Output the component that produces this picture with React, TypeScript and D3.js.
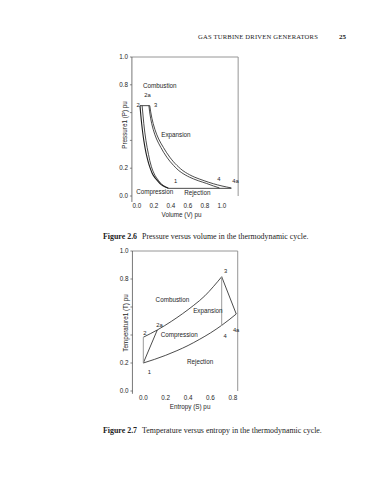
import * as d3 from 'd3'

// ---- Figure 2.6: pressure vs volume ----
const pvCompressionIdeal: [number, number][] = [
  [0.37, 0.055], [0.3, 0.075], [0.24, 0.11], [0.19, 0.15], [0.15, 0.21],
  [0.11, 0.3], [0.08, 0.4], [0.055, 0.52], [0.035, 0.65],
]
const pvCompressionActual: [number, number][] = [
  [0.37, 0.055], [0.31, 0.075], [0.255, 0.11], [0.21, 0.15], [0.17, 0.21],
  [0.135, 0.3], [0.105, 0.4], [0.08, 0.52], [0.06, 0.65],
]
const pvExpansionIdeal: [number, number][] = [
  [0.14, 0.65], [0.16, 0.56], [0.19, 0.48], [0.23, 0.41], [0.28, 0.35],
  [0.35, 0.28], [0.43, 0.22], [0.52, 0.17], [0.62, 0.135], [0.72, 0.11],
  [0.82, 0.09], [0.9, 0.072], [0.97, 0.058],
]
const pvExpansionActual: [number, number][] = [
  [0.15, 0.65], [0.175, 0.56], [0.21, 0.48], [0.255, 0.41], [0.31, 0.35],
  [0.385, 0.28], [0.47, 0.22], [0.57, 0.17], [0.68, 0.135], [0.79, 0.11],
  [0.9, 0.088], [1.0, 0.072], [1.11, 0.058],
]
const pvCombustion: [number, number][] = [[0.035, 0.65], [0.15, 0.65]]
const pvRejection: [number, number][] = [[0.37, 0.055], [1.11, 0.055]]
const pvXTicks = [0, 0.2, 0.4, 0.6, 0.8, 1.0]
const pvYTicks = [0, 0.2, 0.4, 0.6, 0.8, 1.0]
const pvLabels: [string, number, number][] = [
  ['Combustion', 0.07, 0.78], ['2a', 0.085, 0.71], ['2', -0.005, 0.64], ['3', 0.2, 0.64],
  ['Expansion', 0.285, 0.425], ['1', 0.435, 0.09], ['4', 0.945, 0.11], ['4a', 1.12, 0.09],
  ['Compression', -0.01, 0.013], ['Rejection', 0.555, 0.008],
]

// ---- Figure 2.7: temperature vs entropy ----
const tsCombustion: [number, number][] = [
  [0, 0.384], [0.125, 0.436], [0.25, 0.497], [0.35, 0.552], [0.45, 0.612],
  [0.55, 0.68], [0.625, 0.745], [0.7, 0.816],
]
const tsRejection: [number, number][] = [
  [0, 0.2], [0.1, 0.226], [0.2, 0.255], [0.3, 0.288], [0.4, 0.325],
  [0.5, 0.368], [0.6, 0.415], [0.7, 0.469], [0.83, 0.55],
]
const tsCompressionActual: [number, number][] = [[0, 0.2], [0.125, 0.436]]
const tsExpansionActual: [number, number][] = [[0.7, 0.816], [0.83, 0.55]]
const tsCompressionIdeal: [number, number][] = [[0, 0.2], [0, 0.384]]
const tsExpansionIdeal: [number, number][] = [[0.7, 0.816], [0.7, 0.464]]
const tsXTicks = [0, 0.2, 0.4, 0.6, 0.8]
const tsYTicks = [0, 0.2, 0.4, 0.6, 0.8, 1.0]
const tsLabels: [string, number, number][] = [
  ['3', 0.72, 0.84], ['Combustion', 0.11, 0.635], ['Expansion', 0.445, 0.56],
  ['2a', 0.115, 0.46], ['2', 0.0, 0.4], ['Compression', 0.155, 0.385],
  ['4a', 0.8, 0.42], ['4', 0.715, 0.38], ['Rejection', 0.39, 0.195], ['1', 0.04, 0.125],
]

const sans = 'Liberation Sans, Arial, sans-serif'
const serif = 'Liberation Serif, Times New Roman, serif'
const ink = '#1e1e1e'
const fs = 6.3

type Props = {
  x: d3.ScaleLinear<number, number>
  y: d3.ScaleLinear<number, number>
  xMin: number; xMax: number; yAxisBottom: number
  xTicks: number[]; yTicks: number[]
  xTitle: string; yTitle: string
  yTitleCenter: number
}

function Frame({ x, y, xMin, xMax, yAxisBottom, xTicks, yTicks, xTitle, yTitle, yTitleCenter }: Props) {
  const left = x(xMin), right = x(xMax), top = y(1), bot = y(yAxisBottom)
  const tickY = bot + 6.5
  return (
    <g>
      <line x1={left} x2={right} y1={top} y2={top} stroke="#8a8a8a" strokeWidth={0.9} />
      <line x1={right} x2={right} y1={top} y2={y(0)} stroke="#8a8a8a" strokeWidth={0.9} />
      <line x1={left} x2={left} y1={top} y2={bot} stroke="#555" strokeWidth={0.8} />
      {yTicks.map(t => (
        <g key={t}>
          <line x1={left - 2} x2={left} y1={y(t)} y2={y(t)} stroke="#555" strokeWidth={0.7} />
          {t === 0.4 || t === 0.6 ? null : (
            <text x={left - 4} y={y(t) + 2} fontSize={fs} textAnchor="end" fill={ink} fontFamily={sans}>
              {t.toFixed(1)}
            </text>
          )}
        </g>
      ))}
      {xTicks.map(t => (
        <text key={t} x={x(t)} y={tickY} fontSize={fs} textAnchor="middle" fill={ink} fontFamily={sans}>
          {t.toFixed(1)}
        </text>
      ))}
      <text x={(x(0) + x(xTicks[xTicks.length - 1])) / 2 + 2} y={tickY + 8.5} fontSize={fs} textAnchor="middle" fill={ink} fontFamily={sans}>
        {xTitle}
      </text>
      <text transform={`translate(${left - 4.5},${yTitleCenter}) rotate(-90)`} fontSize={fs} textAnchor="middle" fill={ink} fontFamily={sans}>
        {yTitle}
      </text>
    </g>
  )
}

export default function App() {
  const xV = d3.scaleLinear().domain([0, 1]).range([137, 222])
  const yP = d3.scaleLinear().domain([0, 1]).range([196, 57])
  const xS = d3.scaleLinear().domain([0, 1]).range([143.3, 255.3])
  const yT = d3.scaleLinear().domain([0, 1]).range([391, 251])

  const pvLine = d3.line<[number, number]>().x(d => xV(d[0])).y(d => yP(d[1])).curve(d3.curveMonotoneY)
  const pvStraight = d3.line<[number, number]>().x(d => xV(d[0])).y(d => yP(d[1]))
  const tsLine = d3.line<[number, number]>().x(d => xS(d[0])).y(d => yT(d[1])).curve(d3.curveMonotoneX)
  const tsStraight = d3.line<[number, number]>().x(d => xS(d[0])).y(d => yT(d[1]))

  return (
    <svg width={369} height={480} style={{ position: 'absolute', left: 0, top: 0, background: '#fff' }}>
      <rect width={369} height={480} fill="#fff" />
      <text x={198} y={39} fontSize={6.6} fontFamily={serif} fill="#222" letterSpacing={0.2}>
        GAS TURBINE DRIVEN GENERATORS
      </text>
      <text x={339} y={39} fontSize={7} fontWeight="bold" fontFamily={serif} fill="#222">25</text>

      {/* Figure 2.6 */}
      <Frame x={xV} y={yP} xMin={-0.06} xMax={1.19} yAxisBottom={-0.043}
        xTicks={pvXTicks} yTicks={pvYTicks} xTitle="Volume (V)  pu" yTitle="Pressure1 (P)  pu" yTitleCenter={125} />
      <g fill="none" stroke={ink} strokeWidth={0.8}>
        <path d={pvLine(pvCompressionIdeal) ?? ''} strokeWidth={1.1} />
        <path d={pvLine(pvCompressionActual) ?? ''} />
        <path d={pvLine(pvExpansionIdeal) ?? ''} />
        <path d={pvLine(pvExpansionActual) ?? ''} />
        <path d={pvStraight(pvCombustion) ?? ''} />
        <path d={pvStraight(pvRejection) ?? ''} />
      </g>
      {pvLabels.map(([s, vx, vy]) => (
        <text key={s} x={xV(vx)} y={yP(vy)} fontSize={s.length > 2 ? fs : 5.8} fill={ink} fontFamily={sans}>{s}</text>
      ))}
      <text x={103} y={239} fontSize={7.9} fontFamily={serif} fill="#222">
        <tspan fontWeight="bold">Figure 2.6</tspan>
        <tspan dx={5}>Pressure versus volume in the thermodynamic cycle.</tspan>
      </text>

      {/* Figure 2.7 */}
      <Frame x={xS} y={yT} xMin={-0.097} xMax={0.843} yAxisBottom={-0.02}
        xTicks={tsXTicks} yTicks={tsYTicks} xTitle="Entropy (S)  pu" yTitle="Temperature1 (T)  pu" yTitleCenter={323} />
      <g fill="none" stroke={ink} strokeWidth={0.8}>
        <path d={tsLine(tsCombustion) ?? ''} />
        <path d={tsLine(tsRejection) ?? ''} />
        <path d={tsStraight(tsCompressionActual) ?? ''} />
        <path d={tsStraight(tsExpansionActual) ?? ''} />
        <path d={tsStraight(tsCompressionIdeal) ?? ''} stroke="#9a9a9a" strokeWidth={1} />
        <path d={tsStraight(tsExpansionIdeal) ?? ''} stroke="#9a9a9a" strokeWidth={1} />
      </g>
      {tsLabels.map(([s, sx, ty]) => (
        <text key={s} x={xS(sx)} y={yT(ty)} fontSize={s.length > 2 ? fs : 5.8} fill={ink} fontFamily={sans}>{s}</text>
      ))}
      <text x={103} y={433} fontSize={7.9} fontFamily={serif} fill="#222">
        <tspan fontWeight="bold">Figure 2.7</tspan>
        <tspan dx={5}>Temperature versus entropy in the thermodynamic cycle.</tspan>
      </text>
    </svg>
  )
}
